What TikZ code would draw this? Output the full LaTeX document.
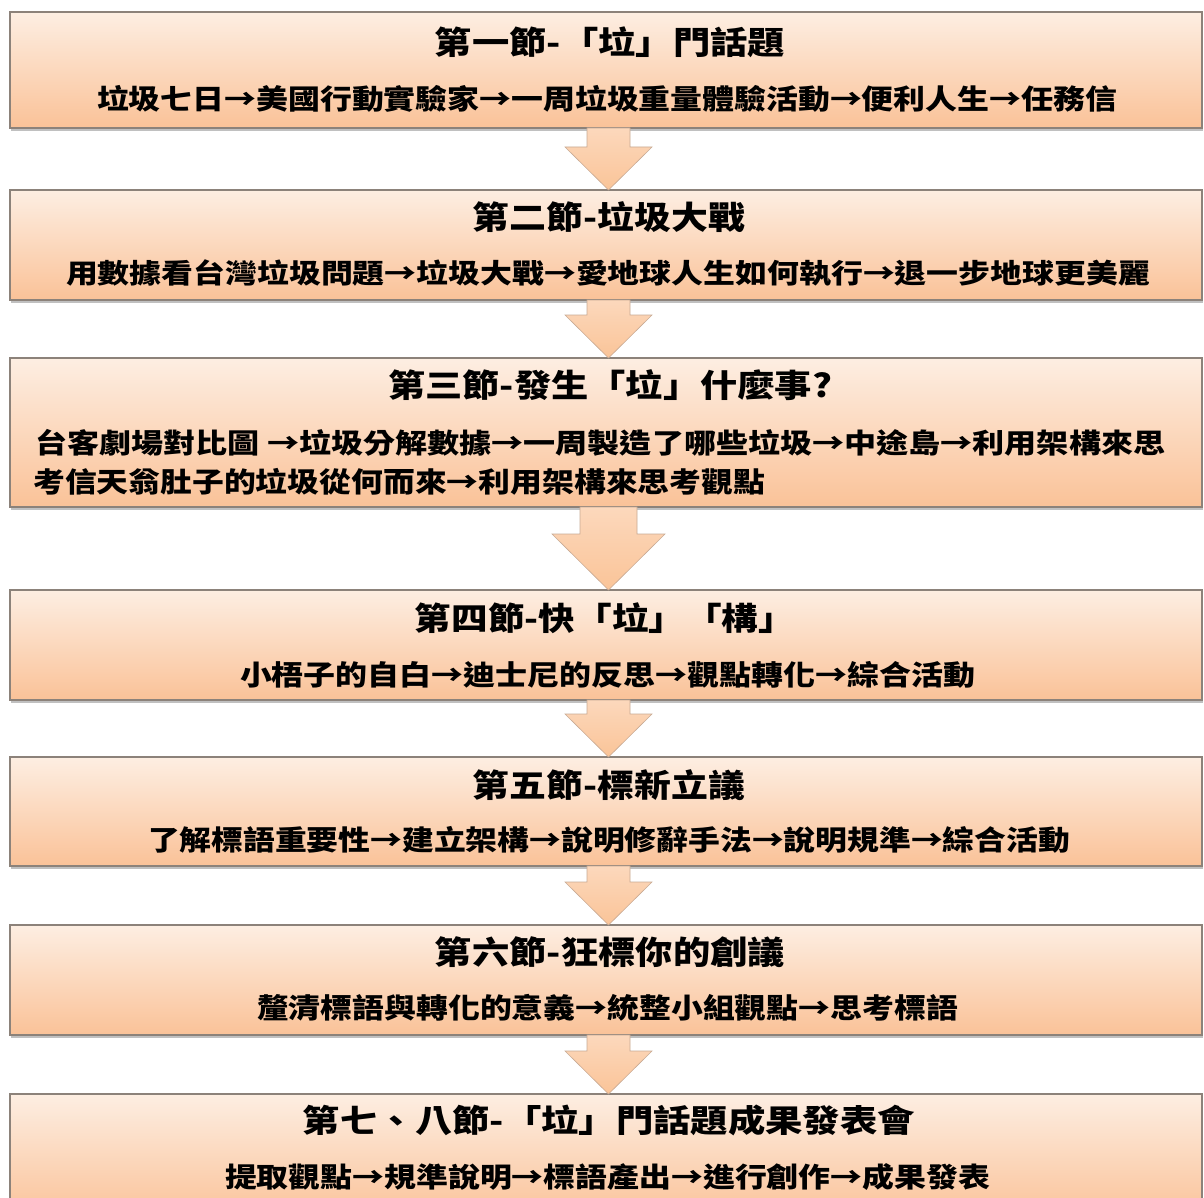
\documentclass[tikz,border=0pt]{standalone}
\usepackage{graphicx}
\usepackage{fontspec}
\newfontfamily\cjk{Noto Sans CJK TC}
\usetikzlibrary{shadows,calc}
\definecolor{boxtop}{RGB}{253,238,226}
\definecolor{boxbot}{RGB}{250,194,152}
\definecolor{boxline}{RGB}{140,130,122}
\definecolor{arrtop}{RGB}{252,216,188}
\definecolor{arrbot}{RGB}{250,196,152}
\definecolor{arrline}{RGB}{200,170,148}
\tikzset{
  box/.style={draw=boxline, line width=1.1pt, top color=boxtop, bottom color=boxbot,
    minimum width=1192pt, anchor=north west, inner sep=0pt, outer sep=0pt,
    drop shadow={shadow xshift=1pt, shadow yshift=-3pt, opacity=0.35, fill=black!70}},
  ttl/.style={inner sep=0pt, anchor=center, font=\cjk\bfseries},
  subl/.style={inner sep=0pt, anchor=center, font=\cjk\bfseries},
  subw/.style={inner sep=0pt, anchor=west, font=\cjk\bfseries},
  darrow/.style={top color=arrtop, bottom color=arrbot, draw=arrline, line width=0.6pt}
}
\newcommand\flowarrow[5]{%
  \path[darrow] ($(#1.south)+(2.5-#3,0)$) -- ($(#2.north)+(2.5-#3,-#5)$) -- ($(#2.north)+(2.5-#4,-#5)$)
    -- ($(#2.north)+(2.5,0)$) -- ($(#2.north)+(2.5+#4,-#5)$) -- ($(#2.north)+(2.5+#3,-#5)$)
    -- ($(#1.south)+(2.5+#3,0)$) -- cycle;}
\begin{document}
\begin{tikzpicture}[x=1pt,y=-1pt]
\useasboundingbox[fill=white] (0,0) rectangle (1204,1198);
% boxes
\node[box, minimum height=116pt] (b1) at (10,12) {};
\node[box, minimum height=110pt] (b2) at (10,190) {};
\node[box, minimum height=149pt] (b3) at (10,358) {};
\node[box, minimum height=110pt] (b4) at (10,590) {};
\node[box, minimum height=109pt] (b5) at (10,757) {};
\node[box, minimum height=110pt] (b6) at (10,925) {};
\node[box, minimum height=125pt] (b7) at (10,1094) {};
% arrows
\flowarrow{b1}{b2}{21.5}{43.5}{43}
\flowarrow{b2}{b3}{21.5}{43.5}{43}
\flowarrow{b3}{b4}{28.5}{56.5}{56}
\flowarrow{b4}{b5}{21.5}{43.5}{43}
\flowarrow{b5}{b6}{21.5}{43.5}{43}
\flowarrow{b6}{b7}{21.5}{43.5}{43}
% texts
\node[ttl] (t1) at (610,42) {\resizebox*{350pt}{31pt}{第一節-「垃」門話題}};
\node[subl] (s1) at (607,99) {\resizebox*{1020pt}{27pt}{垃圾七日→美國行動實驗家→一周垃圾重量體驗活動→便利人生→任務信}};
\node[ttl] (t2) at (609,217) {\resizebox*{272pt}{31pt}{第二節-垃圾大戰}};
\node[subl] (s2) at (608,273) {\resizebox*{1084pt}{27pt}{用數據看台灣垃圾問題→垃圾大戰→愛地球人生如何執行→退一步地球更美麗}};
\node[ttl] (t3) at (610,385) {\resizebox*{444pt}{31pt}{第三節-發生「垃」什麼事?}};
\node[subw] (s3a) at (35,443) {\resizebox*{1130pt}{27pt}{台客劇場對比圖 →垃圾分解數據→一周製造了哪些垃圾→中途島→利用架構來思}};
\node[subw] (s3b) at (33,482) {\resizebox*{732pt}{27pt}{考信天翁肚子的垃圾從何而來→利用架構來思考觀點}};
\node[ttl] (t4) at (605,618) {\resizebox*{380pt}{31pt}{第四節-快「垃」「構」}};
\node[subl] (s4) at (607.5,675) {\resizebox*{735pt}{27pt}{小梧子的自白→迪士尼的反思→觀點轉化→綜合活動}};
\node[ttl] (t5) at (609,785) {\resizebox*{272pt}{31pt}{第五節-標新立議}};
\node[subl] (s5) at (609,840) {\resizebox*{922pt}{27pt}{了解標語重要性→建立架構→說明修辭手法→說明規準→綜合活動}};
\node[ttl] (t6) at (610,952) {\resizebox*{350pt}{31pt}{第六節-狂標你的創議}};
\node[subl] (s6) at (607.5,1008) {\resizebox*{701pt}{27pt}{釐清標語與轉化的意義→統整小組觀點→思考標語}};
\node[ttl] (t7) at (609,1120) {\resizebox*{612pt}{31pt}{第七、八節-「垃」門話題成果發表會}};
\node[subl] (s7) at (607.5,1177) {\resizebox*{765pt}{27pt}{提取觀點→規準說明→標語產出→進行創作→成果發表}};
\end{tikzpicture}
\end{document}
